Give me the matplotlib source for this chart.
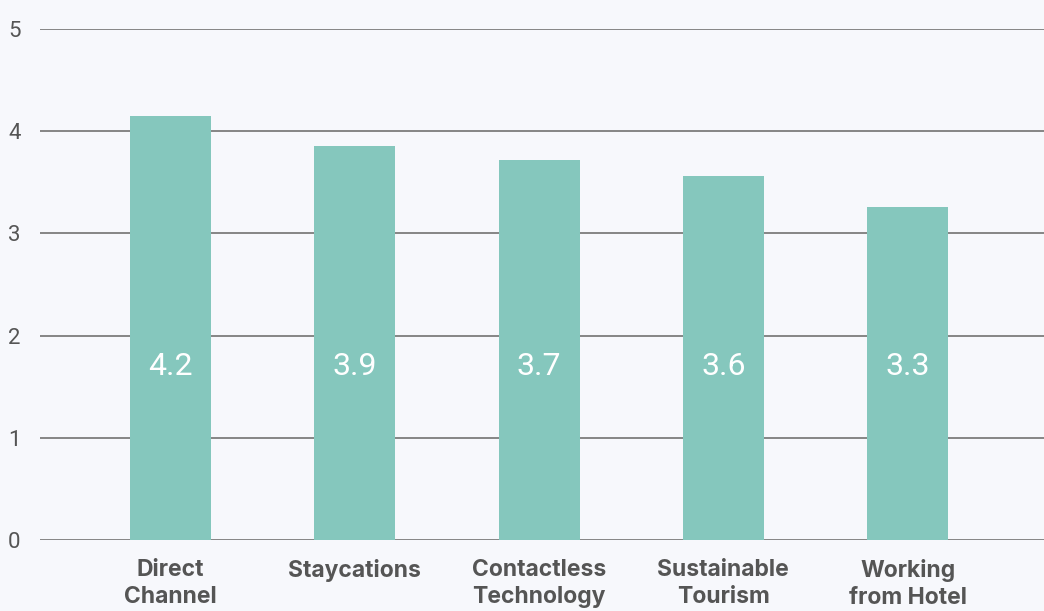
import matplotlib.pyplot as plt

categories = ["Direct\nChannel", "Staycations", "Contactless\nTechnology",
              "Sustainable\nTourism", "Working\nfrom Hotel"]
scores = [4.15, 3.86, 3.72, 3.56, 3.26]
y_ticks = [0, 1, 2, 3, 4, 5]

bg = "#f7f8fc"
bar_color = "#85c7bd"
text_gray = "#555555"

fig = plt.figure(figsize=(10.44, 6.11), dpi=100)
fig.patch.set_facecolor(bg)
ax = fig.add_axes([40 / 1044, 71 / 611, 1004 / 1044, 511 / 611])
ax.set_facecolor(bg)

xs = list(range(len(categories)))
ax.bar(xs, scores, width=0.44, color=bar_color, zorder=3)

for x, v in zip(xs, scores):
    ax.text(x, 1.7, f"{v:.1f}", ha="center", va="center", color="white",
            fontsize=23, fontfamily="Roboto", fontweight="normal", zorder=4)

ax.set_xlim(-0.708, 4.74)
ax.set_ylim(0, 5)
ax.set_yticks(y_ticks)
ax.set_yticklabels([str(t) for t in y_ticks], fontsize=16, color=text_gray,
                   fontfamily="Roboto")
ax.set_xticks(xs)
ax.set_xticklabels(categories, fontsize=16.5, color=text_gray, fontfamily="Inter",
                   fontweight="bold", linespacing=1.25, va="top")

ax.grid(axis="y", color="#858585", linewidth=1.4, zorder=1)
ax.tick_params(axis="y", length=0, pad=14)
ax.tick_params(axis="x", length=0, pad=14)
for s in ax.spines.values():
    s.set_visible(False)

fig.savefig("out.png", dpi=100, facecolor=bg)
